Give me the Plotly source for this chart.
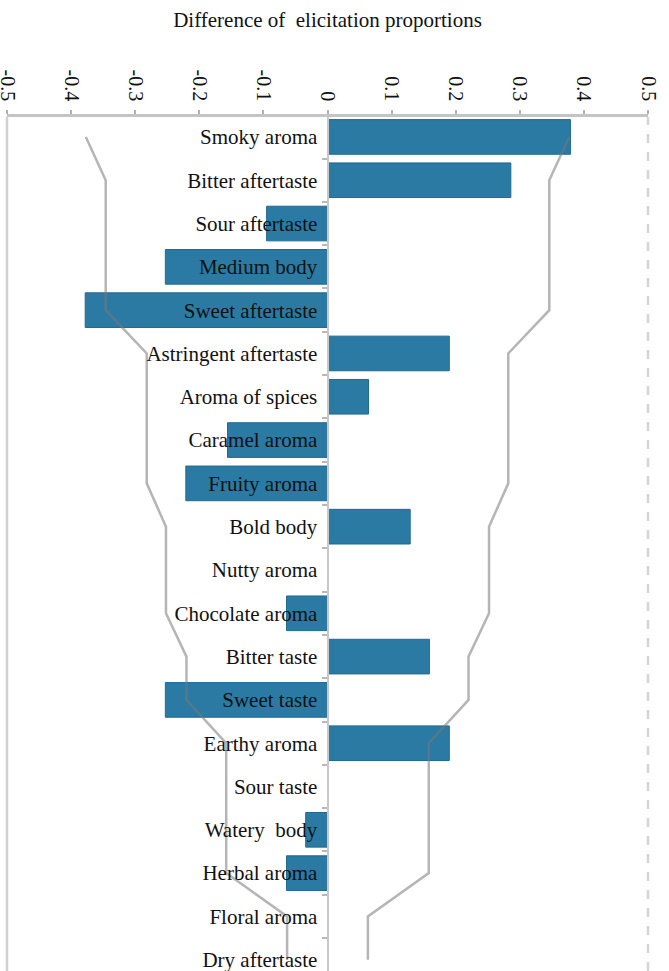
import plotly.graph_objects as go

categories = ["Smoky aroma", "Bitter aftertaste", "Sour aftertaste", "Medium body",
              "Sweet aftertaste", "Astringent aftertaste", "Aroma of spices", "Caramel aroma",
              "Fruity aroma", "Bold body", "Nutty aroma", "Chocolate aroma", "Bitter taste",
              "Sweet taste", "Earthy aroma", "Sour taste", "Watery  body", "Herbal aroma",
              "Floral aroma", "Dry aftertaste"]

differences = [0.379, 0.286, -0.095, -0.253, -0.378, 0.19, 0.064, -0.156,
               -0.221, 0.129, 0.0, -0.064, 0.159, -0.253, 0.19, 0.0, -0.034, -0.064,
               0.0, 0.0]

upper_limit = [0.377, 0.346, 0.346, 0.346, 0.346, 0.282, 0.282, 0.282, 0.282,
               0.252, 0.252, 0.252, 0.22, 0.22, 0.158, 0.158, 0.158, 0.158, 0.063, 0.063]
lower_limit = [-v for v in upper_limit]

tick_vals = [-0.5, -0.4, -0.3, -0.2, -0.1, 0, 0.1, 0.2, 0.3, 0.4, 0.5]
tick_text = ["-0.5", "-0.4", "-0.3", "-0.2", "-0.1", "0", "0.1", "0.2", "0.3", "0.4", "0.5"]

title_text = "Difference of  elicitation proportions"

SERIF = "Liberation Serif, Times New Roman, serif"
BAR_COLOR = "#2a7aa3"
LINE_COLOR = "rgba(120,120,120,0.55)"

fig = go.Figure()

fig.add_trace(go.Bar(
    x=differences, y=categories, orientation="h", width=0.8,
    marker=dict(color=BAR_COLOR, line=dict(color="#1f6a92", width=1)),
    showlegend=False, hoverinfo="x+y",
))

for lim in (upper_limit, lower_limit):
    fig.add_trace(go.Scatter(
        x=lim, y=categories, mode="lines",
        line=dict(color=LINE_COLOR, width=2.5),
        showlegend=False, hoverinfo="skip",
    ))

n = len(categories)
fig.update_layout(
    width=669, height=971,
    margin=dict(l=7, r=21, t=117, b=0, autoexpand=False),
    paper_bgcolor="white", plot_bgcolor="white",
    font=dict(family=SERIF, size=20, color="#111111"),
    title=dict(text=title_text, x=0.5, xref="paper", xanchor="center",
               y=1 - 20 / 971, yref="container", yanchor="middle",
               font=dict(family=SERIF, size=21, color="#111111")),
    xaxis=dict(
        side="top", range=[-0.5, 0.5], domain=[0, 1], automargin=False,
        tickvals=tick_vals, ticktext=tick_text, tickangle=90,
        ticks="outside", ticklen=4, tickcolor="#b0b0b0", tickwidth=1.5,
        ticklabelstandoff=2, ticklabeloverflow="allow",
        showline=True, linecolor="#c4c4c4", linewidth=2.5,
        showgrid=False, zeroline=False,
        tickfont=dict(family=SERIF, size=20, color="#111111"),
    ),
    yaxis=dict(
        type="category", categoryorder="array", categoryarray=categories,
        range=[n - 1 + 0.26, -0.46], automargin=False,
        anchor="free", position=0.5,
        showline=True, linecolor="#c8c8c8", linewidth=2,
        ticks="outside", ticklen=5, tickcolor="#b8b8b8", tickwidth=1.5,
        tickson="boundaries", ticklabelstandoff=5,
        showgrid=False, zeroline=False,
        tickfont=dict(family=SERIF, size=21, color="#111111"),
    ),
    shapes=[
        dict(type="line", xref="paper", yref="paper", x0=0, x1=0, y0=0, y1=1,
             line=dict(color="#d0d0d0", width=2.5)),
        dict(type="line", xref="paper", yref="paper", x0=1, x1=1, y0=0, y1=1,
             line=dict(color="#d4d4d4", width=2.5, dash="dash")),
    ],
)

fig.write_html("out.html")
